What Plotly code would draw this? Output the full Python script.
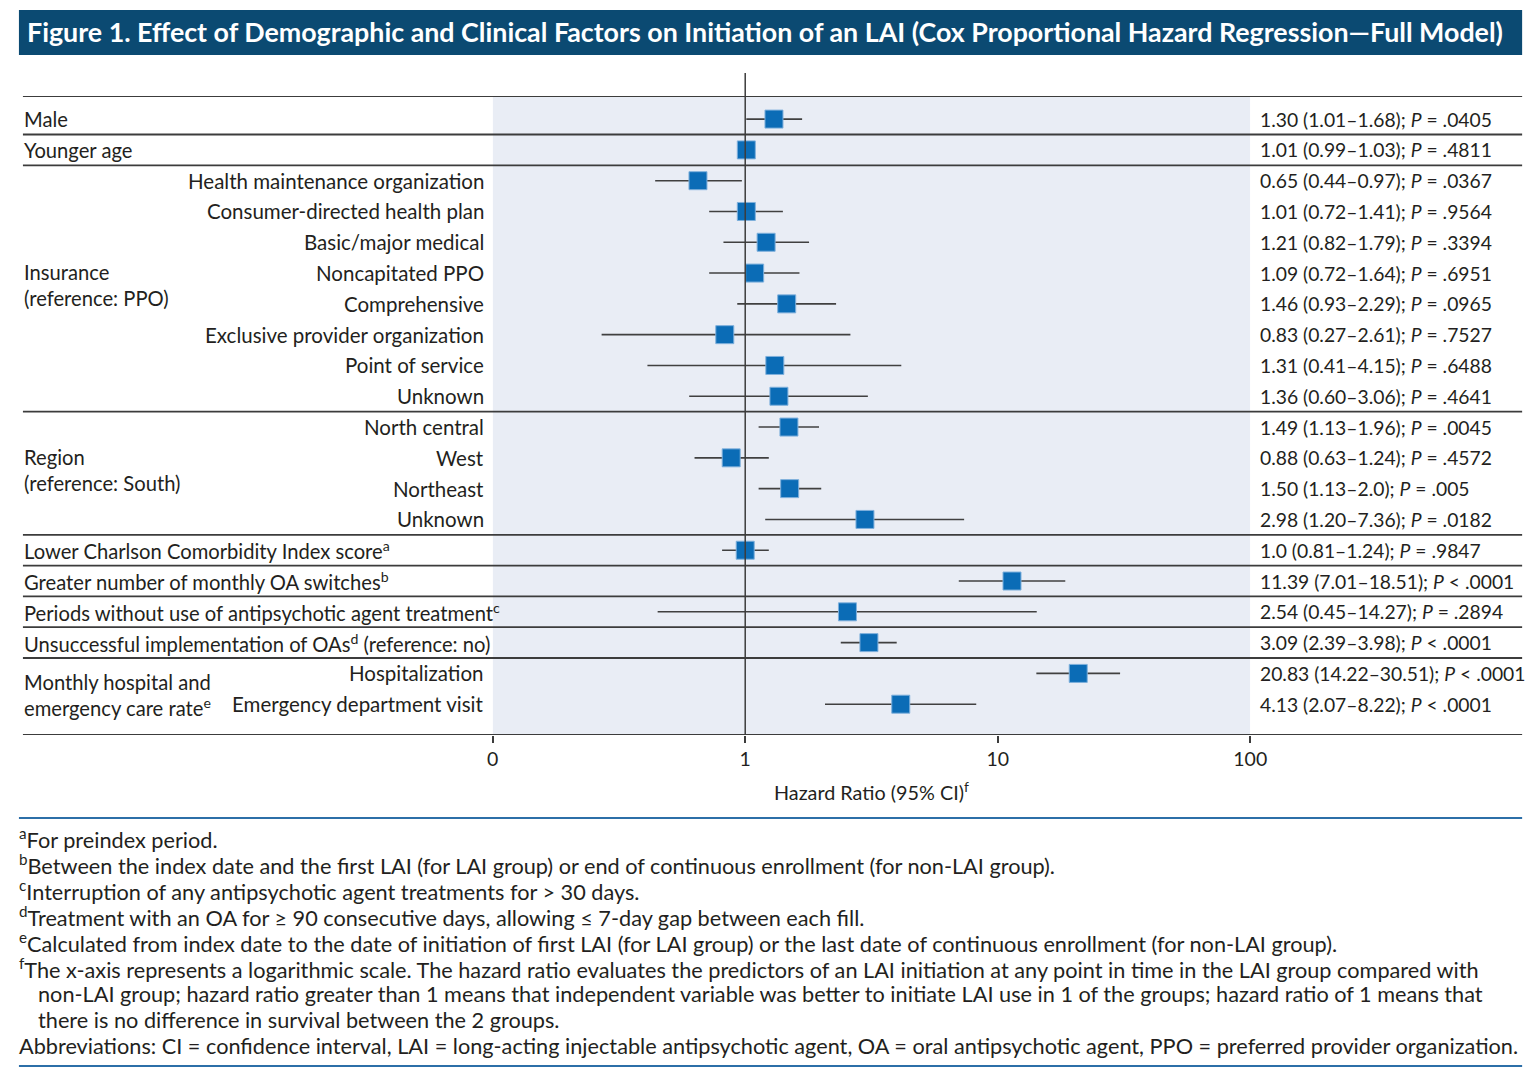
import plotly.graph_objects as go

# ---------------- data ----------------
group_labels = ["Male", "Younger age", "", "", "", "", "", "", "", "", "", "", "", "",
                "Lower Charlson Comorbidity Index score<sup>a</sup>",
                "Greater number of monthly OA switches<sup>b</sup>",
                "Periods without use of antipsychotic agent treatment<sup>c</sup>",
                "Unsuccessful implementation of OAs<sup>d</sup> (reference: no)", "", ""]
sub_labels = ["", "", "Health maintenance organization", "Consumer-directed health plan",
              "Basic/major medical", "Noncapitated PPO", "Comprehensive",
              "Exclusive provider organization", "Point of service", "Unknown",
              "North central", "West", "Northeast", "Unknown", "", "", "", "",
              "Hospitalization", "Emergency department visit"]
hr = [1.30, 1.01, 0.65, 1.01, 1.21, 1.09, 1.46, 0.83, 1.31, 1.36,
      1.49, 0.88, 1.50, 2.98, 1.0, 11.39, 2.54, 3.09, 20.83, 4.13]
ci_low = [1.01, 0.99, 0.44, 0.72, 0.82, 0.72, 0.93, 0.27, 0.41, 0.60,
          1.13, 0.63, 1.13, 1.20, 0.81, 7.01, 0.45, 2.39, 14.22, 2.07]
ci_high = [1.68, 1.03, 0.97, 1.41, 1.79, 1.64, 2.29, 2.61, 4.15, 3.06,
           1.96, 1.24, 2.0, 7.36, 1.24, 18.51, 14.27, 3.98, 30.51, 8.22]
result_text = [
    "1.30 (1.01–1.68); <i>P</i> = .0405", "1.01 (0.99–1.03); <i>P</i> = .4811",
    "0.65 (0.44–0.97); <i>P</i> = .0367", "1.01 (0.72–1.41); <i>P</i> = .9564",
    "1.21 (0.82–1.79); <i>P</i> = .3394", "1.09 (0.72–1.64); <i>P</i> = .6951",
    "1.46 (0.93–2.29); <i>P</i> = .0965", "0.83 (0.27–2.61); <i>P</i> = .7527",
    "1.31 (0.41–4.15); <i>P</i> = .6488", "1.36 (0.60–3.06); <i>P</i> = .4641",
    "1.49 (1.13–1.96); <i>P</i> = .0045", "0.88 (0.63–1.24); <i>P</i> = .4572",
    "1.50 (1.13–2.0); <i>P</i> = .005", "2.98 (1.20–7.36); <i>P</i> = .0182",
    "1.0 (0.81–1.24); <i>P</i> = .9847", "11.39 (7.01–18.51); <i>P</i> < .0001",
    "2.54 (0.45–14.27); <i>P</i> = .2894", "3.09 (2.39–3.98); <i>P</i> < .0001",
    "20.83 (14.22–30.51); <i>P</i> < .0001", "4.13 (2.07–8.22); <i>P</i> < .0001"]
block_labels = ["Insurance<br>(reference: PPO)", "Region<br>(reference: South)",
                "Monthly hospital and<br>emergency care rate<sup>e</sup>"]
block_rows = [5.4, 11.4, 18.7]
separators = [0.5, 1.5, 9.5, 13.5, 14.5, 15.5, 16.5, 17.5]
tick_vals = [0.1, 1, 10, 100]
tick_text = ["0", "1", "10", "100"]
title_text = ("Figure 1. Effect of Demographic and Clinical Factors on Initiation of an LAI "
              "(Cox Proportional Hazard Regression—Full Model)")
footnotes = [
    "<sup>a</sup>For preindex period.",
    "<sup>b</sup>Between the index date and the first LAI (for LAI group) or end of continuous enrollment (for non-LAI group).",
    "<sup>c</sup>Interruption of any antipsychotic agent treatments for > 30 days.",
    "<sup>d</sup>Treatment with an OA for ≥ 90 consecutive days, allowing ≤ 7-day gap between each fill.",
    "<sup>e</sup>Calculated from index date to the date of initiation of first LAI (for LAI group) or the last date of continuous enrollment (for non-LAI group).",
    "<sup>f</sup>The x-axis represents a logarithmic scale. The hazard ratio evaluates the predictors of an LAI initiation at any point in time in the LAI group compared with",
    "   non-LAI group; hazard ratio greater than 1 means that independent variable was better to initiate LAI use in 1 of the groups; hazard ratio of 1 means that",
    "   there is no difference in survival between the 2 groups.",
    "Abbreviations: CI = confidence interval, LAI = long-acting injectable antipsychotic agent, OA = oral antipsychotic agent, PPO = preferred provider organization.",
]

# ---------------- layout helpers ----------------
W, H = 1520, 1061
OY = 8
XA, XB = 0.9854, 13.06   # horizontal calibration of the page photograph
def px(X):
    return ((X - XB) / XA) / W
def py(Y):
    return 1 - (Y - OY) / H

FONT = "Lato"
TXT = "#231f20"
LAB = 20.2
rows = list(range(len(hr)))
Y_TOP, Y_BOT = -0.75, 20.0

fig = go.Figure()
fig.add_trace(go.Scatter(
    x=hr, y=rows, mode="markers",
    marker=dict(symbol="square", size=18, color="#0b6cb6",
                line=dict(color="#7fb0dc", width=1)),
    error_x=dict(type="data", symmetric=False,
                 array=[h - v for v, h in zip(hr, ci_high)],
                 arrayminus=[v - l for v, l in zip(hr, ci_low)],
                 color="#404040", thickness=1.6, width=0),
    showlegend=False, hoverinfo="skip"))

shapes = []
shapes.append(dict(type="rect", xref="paper", yref="paper", x0=px(18), x1=px(1522),
                   y0=py(55), y1=py(10), fillcolor="#0b4a72", line=dict(width=0), layer="below"))
shapes.append(dict(type="rect", xref="x", yref="y", x0=0.1, x1=100, y0=Y_TOP, y1=Y_BOT,
                   fillcolor="#e9edf5", line=dict(width=0), layer="below"))
for yv in [Y_TOP] + separators + [Y_BOT]:
    shapes.append(dict(type="line", xref="paper", yref="y", x0=px(22), x1=px(1522),
                       y0=yv, y1=yv, line=dict(color="#3c3c3c", width=1.8)))
shapes.append(dict(type="line", xref="x", yref="paper", x0=1, x1=1,
                   y0=py(735), y1=py(73), line=dict(color="#3c3c3c", width=1.5)))
for Y in [818, 1066]:
    shapes.append(dict(type="line", xref="paper", yref="paper", x0=px(18), x1=px(1522),
                       y0=py(Y), y1=py(Y), line=dict(color="#2c6fa8", width=2)))

ann = []
ann.append(dict(text="<b>" + title_text + "</b>", xref="paper", yref="paper",
                x=px(24), y=py(32), xanchor="left", yanchor="middle", showarrow=False,
                font=dict(family=FONT, size=26.8, color="white")))
for i in rows:
    if group_labels[i]:
        ann.append(dict(text=group_labels[i], xref="paper", yref="y", x=px(21), y=i,
                        xanchor="left", yanchor="middle", showarrow=False,
                        font=dict(family=FONT, size=LAB, color=TXT)))
    if sub_labels[i]:
        ann.append(dict(text=sub_labels[i], xref="paper", yref="y", x=px(485), y=i,
                        xanchor="right", yanchor="middle", showarrow=False,
                        font=dict(family=FONT, size=20.5, color=TXT)))
    ann.append(dict(text=result_text[i], xref="paper", yref="y", x=px(1258), y=i,
                    xanchor="left", yanchor="middle", showarrow=False,
                    font=dict(family=FONT, size=19.3, color=TXT)))
for lab, r in zip(block_labels, block_rows):
    ann.append(dict(text=lab, xref="paper", yref="y", x=px(21), y=r,
                    xanchor="left", yanchor="middle", align="left", showarrow=False,
                    font=dict(family=FONT, size=LAB, color=TXT)))
ann.append(dict(text="Hazard Ratio (95% CI)<sup>f</sup>", xref="paper", yref="paper",
                x=px(871), y=py(791), xanchor="center", yanchor="middle", showarrow=False,
                font=dict(family=FONT, size=19.8, color=TXT)))
for k, line in enumerate(footnotes):
    indent = line.startswith("   ")
    ann.append(dict(text=line.strip(), xref="paper", yref="paper",
                    x=px(35 if indent else 16), y=py(838 + 26 * k),
                    xanchor="left", yanchor="middle", showarrow=False,
                    font=dict(family=FONT, size=21.7, color=TXT)))

fig.update_layout(
    width=W, height=H, margin=dict(l=0, r=0, t=0, b=0),
    paper_bgcolor="white", plot_bgcolor="rgba(0,0,0,0)",
    shapes=shapes, annotations=ann, showlegend=False,
    xaxis=dict(type="log", range=[-1, 2], domain=[px(492), px(1250)],
               tickvals=tick_vals, ticktext=tick_text, ticks="outside", ticklen=7,
               tickwidth=1.5, tickcolor="#3c3c3c", showgrid=False, zeroline=False,
               showline=False, tickfont=dict(family=FONT, size=19.5, color=TXT),
               fixedrange=True),
    yaxis=dict(range=[Y_BOT, Y_TOP], domain=[py(735), py(96)], visible=False,
               fixedrange=True),
)
fig.write_html("out.html")
